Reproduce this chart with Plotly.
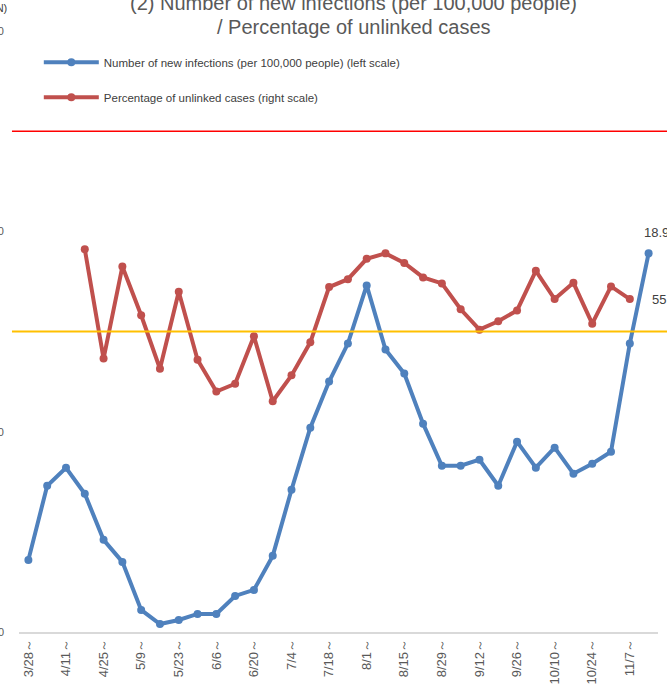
import plotly.graph_objects as go

weeks = ["3/28", "4/4", "4/11", "4/18", "4/25", "5/2", "5/9", "5/16", "5/23", "5/30",
         "6/6", "6/13", "6/20", "6/27", "7/4", "7/11", "7/18", "7/25", "8/1", "8/8",
         "8/15", "8/22", "8/29", "9/5", "9/12", "9/19", "9/26", "10/3", "10/10", "10/17",
         "10/24", "10/31", "11/7", "11/14"]
categories = [w + "～" for w in weeks]
tick_labels = categories[::2]

new_infections = [3.6, 7.3, 8.2, 6.9, 4.6, 3.5, 1.1, 0.4, 0.6, 0.9,
                  0.9, 1.8, 2.1, 3.8, 7.1, 10.2, 12.5, 14.4, 17.3, 14.1,
                  12.9, 10.4, 8.3, 8.3, 8.6, 7.3, 9.5, 8.2, 9.2, 7.9,
                  8.4, 9.0, 14.4, 18.9]
unlinked_pct = [None, None, None, 63.7, 45.5, 60.8, 52.7, 43.8, 56.6, 45.3,
                40.0, 41.3, 49.2, 38.4, 42.7, 48.2, 57.4, 58.7, 62.1, 63.0,
                61.4, 59.0, 58.0, 53.7, 50.3, 51.7, 53.5, 60.1, 55.4, 58.1,
                51.3, 57.5, 55.4, None]

infection_threshold = 25
unlinked_threshold = 50
left_ticks = [0, 10, 20, 30]

BLUE = "#4F81BD"
RED = "#C0504D"
FONT = "Liberation Sans"

fig = go.Figure()
fig.add_trace(go.Scatter(
    x=categories, y=new_infections, mode="lines+markers",
    name="Number of new infections (per 100,000 people) (left scale)",
    line=dict(color=BLUE, width=4), marker=dict(color=BLUE, size=8),
    legendgroup="a", yaxis="y"))
fig.add_trace(go.Scatter(
    x=categories, y=unlinked_pct, mode="lines+markers",
    name="Percentage of unlinked cases (right scale)",
    line=dict(color=RED, width=4), marker=dict(color=RED, size=8),
    legendgroup="b", yaxis="y2"))

fig.add_shape(type="line", xref="paper", yref="y", x0=-0.011, x1=1.03,
              y0=infection_threshold, y1=infection_threshold,
              line=dict(color="#FF0000", width=1.5))
fig.add_shape(type="line", xref="paper", yref="y2", x0=-0.011, x1=1.03,
              y0=unlinked_threshold, y1=unlinked_threshold,
              line=dict(color="#FFC000", width=2))

# data labels
fig.add_annotation(x=categories[-1], y=new_infections[-1], xref="x", yref="y",
                   text=f"{new_infections[-1]:.1f}", showarrow=False,
                   xanchor="center", yanchor="middle", yshift=21, xshift=8,
                   font=dict(family=FONT, size=13, color="#404040"))
fig.add_annotation(x=categories[-2], y=unlinked_pct[-2], xref="x", yref="y2",
                   text=f"{unlinked_pct[-2]:.0f}", showarrow=False,
                   xanchor="left", yanchor="middle", xshift=20,
                   font=dict(family=FONT, size=13, color="#404040"))

# title (partly cropped at top)
fig.add_annotation(xref="paper", yref="paper", x=0.524, y=1.0, yshift=28,
                   text="(2) Number of new infections (per 100,000 people)",
                   showarrow=False, xanchor="center", yanchor="middle",
                   font=dict(family=FONT, size=20, color="#595959"))
fig.add_annotation(xref="paper", yref="paper", x=0.524, y=1.0, yshift=4,
                   text="/ Percentage of unlinked cases",
                   showarrow=False, xanchor="center", yanchor="middle",
                   font=dict(family=FONT, size=20, color="#595959"))
fig.add_annotation(xref="paper", yref="paper", x=-0.016, y=1.0, yshift=23,
                   text="(N)", showarrow=False, xanchor="right", yanchor="middle",
                   font=dict(family=FONT, size=11, color="#404040"))

fig.update_layout(
    width=667, height=691,
    margin=dict(l=19, r=9, t=31, b=59, autoexpand=False),
    plot_bgcolor="white", paper_bgcolor="white",
    font=dict(family=FONT, color="#595959"),
    showlegend=True,
    legend=dict(x=0.031, y=0.972, xanchor="left", yanchor="top",
                bgcolor="rgba(0,0,0,0)", itemwidth=55,
                traceorder="grouped", tracegroupgap=16,
                font=dict(family=FONT, size=11.5, color="#404040")),
    xaxis=dict(type="category", categoryorder="array", categoryarray=categories,
               range=[-0.5, len(categories) - 0.5], autorange=False,
               tickvals=tick_labels, ticktext=tick_labels, tickangle=-90,
               showline=True, linecolor="#D9D9D9", linewidth=1.5,
               showgrid=False, ticks="", zeroline=False,
               tickfont=dict(family=FONT, size=13, color="#595959")),
    yaxis=dict(range=[0, 30], autorange=False, tickvals=left_ticks, showgrid=False,
               zeroline=False, ticks="", showline=False, ticklabelstandoff=14,
               tickfont=dict(family=FONT, size=11, color="#595959")),
    yaxis2=dict(range=[0, 100], autorange=False, overlaying="y", side="right",
                showgrid=False, zeroline=False, showticklabels=False, ticks="",
                showline=False),
)

fig.write_html("out.html", config={"displayModeBar": False},
               post_script="document.body.style.margin='0';document.body.style.overflow='hidden';")
